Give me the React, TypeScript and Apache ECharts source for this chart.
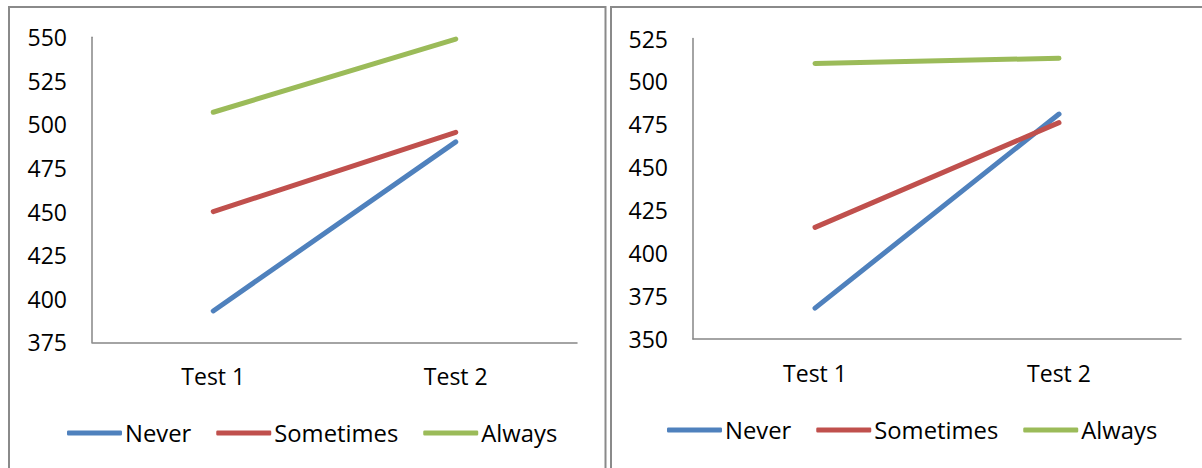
import React, { useEffect, useRef } from "react";
import * as echarts from "echarts";

const categories = ["Test 1", "Test 2"];
const seriesNames = ["Never", "Sometimes", "Always"];
const colors = ["#4F81BD", "#C0504D", "#9BBB59"];

const leftNever = [393, 490];
const leftSometimes = [450, 495.5];
const leftAlways = [507, 549];

const rightNever = [368, 481];
const rightSometimes = [415, 476];
const rightAlways = [510.5, 513.5];

const leftTicks = { min: 375, max: 550, interval: 25 };
const rightTicks = { min: 350, max: 525, interval: 25 };

const FONT = "Open Sans";

export default function App() {
  const ref = useRef<HTMLDivElement>(null);
  useEffect(() => {
    if (!ref.current) return;
    const chart = echarts.init(ref.current, null, { renderer: "svg" });
    const axisLine = { show: true, lineStyle: { color: "#868686", width: 1.5 } };
    const label = { color: "#000", fontSize: 23, fontFamily: FONT };
    const mkX = (gi: number) => ({
      type: "category",
      gridIndex: gi,
      data: categories,
      boundaryGap: true,
      axisLine,
      axisTick: { show: false },
      axisLabel: { ...label, margin: 22 },
    });
    const mkY = (gi: number, t: any) => ({
      type: "value",
      gridIndex: gi,
      min: t.min,
      max: t.max,
      interval: t.interval,
      axisLine,
      axisTick: { show: false },
      splitLine: { show: false },
      axisLabel: { ...label, margin: 25 },
    });
    const data = [
      [leftNever, leftSometimes, leftAlways],
      [rightNever, rightSometimes, rightAlways],
    ];
    const series: any[] = [];
    data.forEach((set, gi) => {
      set.forEach((vals, i) => {
        series.push({
          type: "line",
          name: seriesNames[i],
          xAxisIndex: gi,
          yAxisIndex: gi,
          data: vals,
          symbol: "none",
          color: colors[i],
          lineStyle: { width: 5, cap: "round", color: colors[i] },
        });
      });
    });
    const mkLegend = (left: number, top: number) => ({
      data: seriesNames,
      left,
      top,
      padding: 0,
      icon: "roundRect",
      itemWidth: 55,
      itemHeight: 5,
      itemGap: 25,
      textStyle: { color: "#000", fontSize: 23.8, fontFamily: FONT, padding: [0, 0, 0, -2] },
    });
    chart.setOption({
      animation: false,
      grid: [
        { left: 92, top: 37.3, width: 485, height: 305 },
        { left: 693, top: 38.5, width: 488, height: 300.5 },
      ],
      xAxis: [mkX(0), mkX(1)],
      yAxis: [mkY(0, leftTicks), mkY(1, rightTicks)],
      legend: [mkLegend(67, 421), mkLegend(667, 418)],
      series,
      graphic: [
        {
          type: "rect",
          shape: { x: 9, y: 7, width: 596.5, height: 520 },
          style: { fill: "none", stroke: "#8a8a8a", lineWidth: 2 },
          silent: true,
        },
        {
          type: "rect",
          shape: { x: 611, y: 7, width: 620, height: 520 },
          style: { fill: "none", stroke: "#8a8a8a", lineWidth: 2 },
          silent: true,
        },
      ],
    });
    return () => chart.dispose();
  }, []);
  return (
    <div
      ref={ref}
      style={{ position: "fixed", left: 0, top: 0, width: 1202, height: 468, background: "#fff" }}
    />
  );
}
